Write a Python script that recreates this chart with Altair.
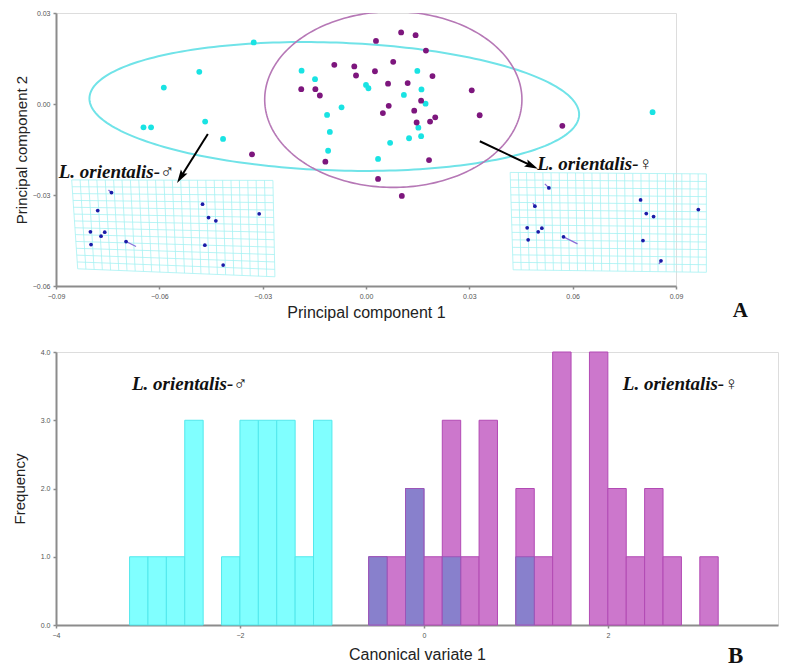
import altair as alt
import numpy as np
import pandas as pd

# ---------------- Panel A: PCA scores ----------------
male_pc1 = [-0.0326, -0.0484, -0.0587, -0.0646, -0.0624, -0.0467, -0.0415, -0.0187, -0.0148,
            0.0000, 0.0007, -0.0071, -0.0113, -0.0105, -0.0110, 0.0070, 0.0035, 0.0149,
            0.0161, 0.0110, 0.0173, 0.0152, 0.0125, 0.0160, 0.0832]
male_pc2 = [0.0203, 0.0106, 0.0054, -0.0077, -0.0077, -0.0058, -0.0115, 0.0110, 0.0082,
            0.0063, 0.0052, -0.0011, -0.0036, -0.0092, -0.0154, -0.0128, -0.0181, 0.0109,
            0.0048, 0.0030, 0.0001, -0.0078, -0.0113, -0.0106, -0.0027]
female_pc1 = [0.0029, -0.0092, -0.0034, 0.0026, -0.0029, 0.0079, -0.0188, -0.0147, -0.0134,
              0.0064, 0.0066, 0.0049, -0.0331, -0.0118, 0.0035, 0.0102, 0.0144, 0.0174,
              0.0193, 0.0121, 0.0307, 0.0160, 0.0140, 0.0147, 0.0186, 0.0201, 0.0330,
              0.0570, 0.0183, 0.0104]
female_pc2 = [0.0208, 0.0129, 0.0124, 0.0108, 0.0094, 0.0139, 0.0049, 0.0049, 0.0028,
              0.0067, -0.0006, -0.0030, -0.0166, -0.0190, -0.0247, 0.0236, 0.0227, 0.0176,
              0.0092, 0.0069, 0.0045, 0.0011, -0.0022, -0.0061, -0.0058, -0.0044, -0.0037,
              -0.0072, -0.0185, -0.0303]

# confidence ellipses: centre and two conjugate semi-diameters (PC units)
male_ellipse = [-0.00921, -0.00082, 0.07108, -0.00281, -0.00065, -0.02106]
female_ellipse = [0.00793, 0.00148, 0.03734, 0.0, 0.0, 0.02898]

# deformation grids: corners TL, TR, BL, BR (PC units)
male_grid = [(-0.08544, -0.02503), (-0.02703, -0.02519), (-0.08370, -0.05433), (-0.02645, -0.05696)]
female_grid = [(0.04185, -0.02256), (0.09881, -0.02305), (0.04272, -0.05466), (0.09881, -0.05548)]
grid_cols = 24
grid_rows = 13

male_lm_x = [-0.07390, -0.07789, -0.08001, -0.07983, -0.07692, -0.07585, -0.06966,
             -0.04746, -0.04571, -0.04359, -0.03101, -0.04679, -0.04147]
male_lm_y = [-0.02921, -0.03513, -0.04215, -0.04633, -0.04356, -0.04225, -0.04534,
             -0.03303, -0.03744, -0.03852, -0.03622, -0.04653, -0.05311]
female_lm_x = [0.05310, 0.04903, 0.04679, 0.04708, 0.04999, 0.05106, 0.05734,
               0.07972, 0.08137, 0.08349, 0.09648, 0.08041, 0.08564]
female_lm_y = [-0.02766, -0.03368, -0.04083, -0.04478, -0.04215, -0.04093, -0.04379,
               -0.03161, -0.03612, -0.03711, -0.03480, -0.04501, -0.05170]
# landmark displacement vectors (from, to)
vec_x1 = [-0.07477, -0.06966, 0.05193, 0.04844, 0.05734, 0.08506]
vec_y1 = [-0.02832, -0.04534, -0.02634, -0.03270, -0.04379, -0.05268]
vec_x2 = [-0.07390, -0.06676, 0.05310, 0.04903, 0.06141, 0.08564]
vec_y2 = [-0.02921, -0.04699, -0.02766, -0.03368, -0.04610, -0.05170]

arrow_x1 = [-0.04592, 0.03304]
arrow_y1 = [-0.00988, -0.01228]
arrow_x2 = [-0.05376, 0.04804]
arrow_y2 = [-0.02404, -0.02032]
arrow_angle = [212, 115]

label_a_text = ["L. orientalis-♂", "L. orientalis-♀"]
label_a_x = [-0.0892, 0.0497]
label_a_y = [-0.0224, -0.0198]

# ---------------- Panel B: CVA histogram ----------------
bin_width = 0.2
male_bins = [-3.2, -3.0, -2.8, -2.6, -2.2, -2.0, -1.8, -1.6, -1.4, -1.2, -0.6, -0.2, 0.2, 1.0]
male_counts = [1, 1, 1, 3, 1, 3, 3, 3, 1, 3, 1, 2, 1, 1]
female_bins = [-0.6, -0.4, -0.2, 0.0, 0.2, 0.4, 0.6, 1.0, 1.2, 1.4, 1.8, 2.0, 2.2, 2.4, 2.6, 3.0]
female_counts = [1, 1, 2, 1, 3, 1, 3, 2, 1, 4, 4, 2, 1, 2, 1, 1]

label_b_text = ["L. orientalis-♂", "L. orientalis-♀"]
label_b_x = [-3.174, 2.163]
label_b_y = [3.53, 3.53]

CYAN_PT = "#19E3E3"
PURPLE_PT = "#7D167D"
ARROW_HEAD = "M0,-1L0.55,0.9L0,0.55L-0.55,0.9Z"

axis_style = dict(domainColor="#8c8c8c", domainWidth=2, tickColor="#8c8c8c", tickWidth=1.5,
                  tickSize=3, labelFont="Liberation Sans", labelFontSize=7, labelColor="#555555",
                  labelPadding=3, labelFlush=False, titleFont="Liberation Sans",
                  titleFontWeight="normal", titleColor="#222222", grid=False)

# ---------- build panel A ----------
xa_scale = alt.Scale(domain=[-0.09, 0.09], nice=False, zero=False)
ya_scale = alt.Scale(domain=[-0.06, 0.03], nice=False, zero=False)
xa_axis = alt.Axis(values=[-0.09, -0.06, -0.03, 0.0, 0.03, 0.06, 0.09], format=".2f",
                   title="Principal component 1", titleFontSize=16, titlePadding=5, **axis_style)
ya_axis = alt.Axis(values=[-0.06, -0.03, 0.0, 0.03], format=".2f",
                   title="Principal component 2", titleFontSize=15, titlePadding=3, **axis_style)


def XA(f="x"):
    return alt.X(f"{f}:Q", scale=xa_scale, axis=xa_axis)


def YA(f="y"):
    return alt.Y(f"{f}:Q", scale=ya_scale, axis=ya_axis)


def grid_lines(c):
    tl, tr, bl, br = [np.array(p) for p in c]
    rows = []
    for i in range(grid_cols + 1):
        s = i / grid_cols
        a = tl + s * (tr - tl)
        b = bl + s * (br - bl)
        rows.append(dict(x=a[0], y=a[1], x2=b[0], y2=b[1]))
    for j in range(grid_rows + 1):
        r = j / grid_rows
        a = tl + r * (bl - tl)
        b = tr + r * (br - tr)
        rows.append(dict(x=a[0], y=a[1], x2=b[0], y2=b[1]))
    return rows


grid_df = pd.DataFrame(grid_lines(male_grid) + grid_lines(female_grid))


def ellipse_df(p, name):
    cx, cy, ux, uy, vx, vy = p
    t = np.linspace(0, 2 * np.pi, 241)
    return pd.DataFrame(dict(x=cx + ux * np.cos(t) + vx * np.sin(t),
                             y=cy + uy * np.cos(t) + vy * np.sin(t),
                             o=np.arange(len(t)), g=name))


ell_m = ellipse_df(male_ellipse, "m")
ell_f = ellipse_df(female_ellipse, "f")

male_df = pd.DataFrame(dict(x=male_pc1, y=male_pc2))
female_df = pd.DataFrame(dict(x=female_pc1, y=female_pc2))
lm_df = pd.DataFrame(dict(x=male_lm_x + female_lm_x, y=male_lm_y + female_lm_y))
vec_df = pd.DataFrame(dict(x=vec_x1, y=vec_y1, x2=vec_x2, y2=vec_y2))
arrow_df = pd.DataFrame(dict(x=arrow_x1, y=arrow_y1, x2=arrow_x2, y2=arrow_y2, ang=arrow_angle))
head_df = pd.DataFrame(dict(x=arrow_x2, y=arrow_y2, ang=arrow_angle))
lab_a_df = pd.DataFrame(dict(x=label_a_x, y=label_a_y, t=label_a_text))
panel_a_df = pd.DataFrame(dict(x=[0.1087], y=[-0.0682], t=["A"]))

grid_layer = alt.Chart(grid_df).mark_rule(color="#A6F1F2", strokeWidth=0.8).encode(
    x=XA(), y=YA(), x2="x2:Q", y2="y2:Q")
vec_layer = alt.Chart(vec_df).mark_rule(color="#8A6FD8", strokeWidth=1.3).encode(
    x=XA(), y=YA(), x2="x2:Q", y2="y2:Q")
lm_layer = alt.Chart(lm_df).mark_point(filled=True, color="#1B1BA8", size=14, opacity=1).encode(
    x=XA(), y=YA())
ell_m_layer = alt.Chart(ell_m).mark_line(color="#70E3E8", strokeWidth=2, clip=True).encode(
    x=XA(), y=YA(), order="o:Q")
ell_f_layer = alt.Chart(ell_f).mark_line(color="#B678B6", strokeWidth=1.6, clip=True).encode(
    x=XA(), y=YA(), order="o:Q")
male_layer = alt.Chart(male_df).mark_circle(color=CYAN_PT, size=34, opacity=1).encode(x=XA(), y=YA())
female_layer = alt.Chart(female_df).mark_circle(color=PURPLE_PT, size=34, opacity=1).encode(x=XA(), y=YA())
arrow_line = alt.Chart(arrow_df).mark_rule(color="black", strokeWidth=2).encode(
    x=XA(), y=YA(), x2="x2:Q", y2="y2:Q")
arrow_head = alt.Chart(head_df).mark_point(shape=ARROW_HEAD, filled=True, color="black", size=200,
                                            opacity=1, strokeWidth=0).encode(
    x=XA(), y=YA(), angle=alt.Angle("ang:Q", scale=None))
lab_a = alt.Chart(lab_a_df).mark_text(font="Liberation Serif", fontStyle="italic", fontWeight="bold",
                                      fontSize=19, align="left", baseline="middle",
                                      color="#111111").encode(x=XA(), y=YA(), text="t:N")
pa_layer = alt.Chart(panel_a_df).mark_text(font="Liberation Serif", fontWeight="bold", fontSize=21,
                                           align="center", baseline="middle",
                                           color="#111111").encode(x=XA(), y=YA(), text="t:N")

panel_a = alt.layer(grid_layer, vec_layer, lm_layer, ell_m_layer, ell_f_layer, male_layer,
                    female_layer, arrow_line, arrow_head, lab_a, pa_layer).properties(
    width=620, height=273)

# ---------- build panel B ----------
xb_scale = alt.Scale(domain=[-4, 3.85], nice=False, zero=False)
yb_scale = alt.Scale(domain=[0, 4], nice=False)
xb_axis = alt.Axis(values=[-4, -2, 0, 2], format="d", title="Canonical variate 1",
                   titleFontSize=16, titlePadding=8, **axis_style)
yb_axis = alt.Axis(values=[0, 1, 2, 3, 4], format=".1f", title="Frequency",
                   titleFontSize=15, titlePadding=13, **axis_style)


def XB(f="x"):
    return alt.X(f"{f}:Q", scale=xb_scale, axis=xb_axis)


def YB(f="y"):
    return alt.Y(f"{f}:Q", scale=yb_scale, axis=yb_axis)


m_hist = pd.DataFrame(dict(x=male_bins, c=male_counts))
m_hist["x2"] = m_hist["x"] + bin_width
m_hist["y"] = 0
f_hist = pd.DataFrame(dict(x=female_bins, c=female_counts))
f_hist["x2"] = f_hist["x"] + bin_width
f_hist["y"] = 0
both = m_hist.merge(f_hist, on=["x", "x2", "y"], suffixes=("_m", "_f"))
both["c"] = both[["c_m", "c_f"]].min(axis=1)

bar_m = alt.Chart(m_hist).mark_rect(color="#80FFFF", stroke="#52E8EC", strokeWidth=1).encode(
    x=XB(), x2="x2:Q", y=YB(), y2="c:Q")
bar_f = alt.Chart(f_hist).mark_rect(color="#CC77CC", stroke="#B24AB4", strokeWidth=1).encode(
    x=XB(), x2="x2:Q", y=YB(), y2="c:Q")
bar_o = alt.Chart(both).mark_rect(color="#8880CC", stroke="#9C55B8", strokeWidth=1).encode(
    x=XB(), x2="x2:Q", y=YB(), y2="c:Q")
lab_b_df = pd.DataFrame(dict(x=label_b_x, y=label_b_y, t=label_b_text))
lab_b = alt.Chart(lab_b_df).mark_text(font="Liberation Serif", fontStyle="italic", fontWeight="bold",
                                      fontSize=19, align="left", baseline="middle",
                                      color="#111111").encode(x=XB(), y=YB(), text="t:N")
panel_b_df = pd.DataFrame(dict(x=[3.39], y=[-0.454], t=["B"]))
pb_layer = alt.Chart(panel_b_df).mark_text(font="Liberation Serif", fontWeight="bold", fontSize=23,
                                           align="center", baseline="middle",
                                           color="#111111").encode(x=XB(), y=YB(), text="t:N")

panel_b = alt.layer(bar_m, bar_f, bar_o, lab_b, pb_layer).properties(width=722, height=273)

chart = alt.vconcat(panel_a, panel_b, spacing=66, bounds="flush").properties(
    padding={"left": 3, "top": 0, "right": 0, "bottom": 0}
).configure_view(stroke=None).configure(background="white")

chart.save("out.html", embed_options={"renderer": "svg", "actions": False})
